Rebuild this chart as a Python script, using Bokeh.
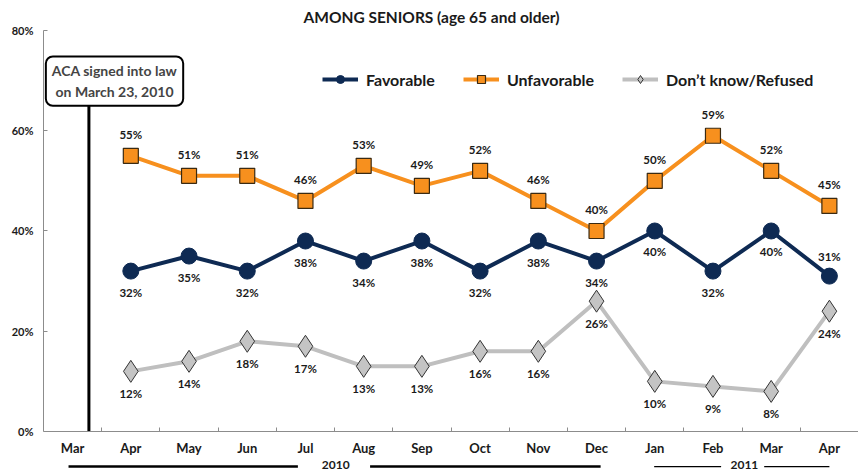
from bokeh.plotting import figure
from bokeh.models import Label, Legend, LegendItem, FixedTicker, Range1d
from bokeh.core.properties import value
from bokeh.embed import file_html
from bokeh.resources import INLINE

months = ["Mar", "Apr", "May", "Jun", "Jul", "Aug", "Sep", "Oct", "Nov", "Dec",
          "Jan", "Feb", "Mar", "Apr"]
xs = list(range(1, 14))
favorable = [32, 35, 32, 38, 34, 38, 32, 38, 34, 40, 32, 40, 31]
unfavorable = [55, 51, 51, 46, 53, 49, 52, 46, 40, 50, 59, 52, 45]
dontknow = [12, 14, 18, 17, 13, 13, 16, 16, 26, 10, 9, 8, 24]
y_ticks = [0, 20, 40, 60, 80]
years = ["2010", "2011"]
year_label_x = [4.52, 11.54]
year_lines = [(-0.07, 3.87, 2.5), (5.11, 9.07, 2.5), (9.99, 11.14, 1.2), (11.88, 13.0, 1.2)]

FONT = "Lato"
NAVY = "#0E2A53"
ORANGE = "#F7901E"
GRAY = "#BFBFBF"
AXIS = "#8C8C8C"
YEAR_Y = -7.0

p = figure(width=858, height=472, output_backend="svg", toolbar_location=None,
           x_range=Range1d(-0.5, 13.5), y_range=Range1d(-8.18, 80),
           min_border_left=43, min_border_right=0, min_border_top=30,
           min_border_bottom=0)
p.outline_line_color = None
p.grid.grid_line_color = None

p.title.text = "AMONG SENIORS (age 65 and older)"
p.title.text_font = FONT
p.title.text_font_style = "bold"
p.title.text_font_size = "15.5px"
p.title.text_color = "#1a1a1a"
p.title.align = "left"
p.title.offset = 260

# axes
p.yaxis.ticker = FixedTicker(ticks=y_ticks)
p.yaxis.major_label_overrides = {t: f"{t}%" for t in y_ticks}
p.yaxis.bounds = (0, 80)
p.xaxis.ticker = FixedTicker(ticks=list(range(14)),
                             minor_ticks=[i + 0.5 for i in range(13)])
p.xaxis.major_label_overrides = {i: m for i, m in enumerate(months)}
p.xaxis.fixed_location = 0
for ax in (p.xaxis[0], p.yaxis[0]):
    ax.axis_line_color = AXIS
    ax.major_label_text_font = FONT
    ax.major_label_text_font_style = "bold"
    ax.major_label_text_color = "#1a1a1a"
p.yaxis.major_label_text_font_size = "11px"
p.yaxis.major_tick_in = 4
p.yaxis.major_tick_out = 0
p.yaxis.major_tick_line_color = AXIS
p.yaxis.minor_tick_line_color = None
p.yaxis.major_label_standoff = 10
p.xaxis.major_label_text_font_size = "13px"
p.xaxis.major_tick_line_color = None
p.xaxis.minor_tick_in = 4
p.xaxis.minor_tick_out = 0
p.xaxis.minor_tick_line_color = AXIS
p.xaxis.major_label_standoff = 3

# ACA event line and box
ACA_X = 0.28
p.segment(x0=[ACA_X], y0=[0], x1=[ACA_X], y1=[65], line_color="black", line_width=3)
p.add_layout(Label(x=0.72, y=69.9, text="ACA signed into law\non March 23, 2010",
                   text_font=FONT, text_font_style="bold", text_font_size="14px",
                   text_align="center", text_baseline="middle",
                   border_line_color="black", border_line_width=2,
                   background_fill_color="white", padding=6, border_radius=7))

# series
l1 = p.line(xs, favorable, line_color=NAVY, line_width=4)
s1 = p.scatter(xs, favorable, marker="circle", size=16, fill_color=NAVY, line_color=NAVY)
l2 = p.line(xs, unfavorable, line_color=ORANGE, line_width=4)
s2 = p.scatter(xs, unfavorable, marker="square", size=15, fill_color=ORANGE,
               line_color="#3A2A12", line_width=1.2)
l3 = p.line(xs, dontknow, line_color=GRAY, line_width=4)
s3 = p.scatter(xs, dontknow, marker="diamond", size=22, fill_color="#C4C4C4",
               line_color="#333333", line_width=1)

def labels(vals, offsets):
    p.text(xs, vals, text=[f"{v}%" for v in vals], y_offset=offsets,
           text_font=value(FONT), text_font_style="bold", text_font_size="11.5px",
           text_color="#1a1a1a", text_align="center", text_baseline="middle")

labels(favorable, [21] * 12 + [-20])
labels(unfavorable, [-21] * 13)
labels(dontknow, [22] * 13)

legend = Legend(items=[LegendItem(label="Favorable", renderers=[l1, s1]),
                       LegendItem(label="Unfavorable", renderers=[l2, s2]),
                       LegendItem(label="Don\u2019t know/Refused", renderers=[l3, s3])],
                orientation="horizontal", location=(279, 383),
                label_text_font=FONT, label_text_font_style="bold",
                label_text_font_size="16px", label_text_color="#1a1a1a",
                glyph_width=36, glyph_height=20, label_standoff=8, spacing=28,
                padding=0, margin=0, border_line_color=None,
                background_fill_alpha=0)
p.add_layout(legend)

# year brackets under the axis
p.segment(x0=[a for a, b, w in year_lines], y0=[YEAR_Y] * 4,
          x1=[b for a, b, w in year_lines], y1=[YEAR_Y] * 4,
          line_color="black", line_width=[w for a, b, w in year_lines])
p.text(year_label_x, [YEAR_Y + 0.4] * 2, text=years, text_font=value(FONT),
       text_font_style="bold", text_font_size="12px", text_align="center",
       text_baseline="middle", text_color="#1a1a1a")

open("out.html", "w").write(file_html(p, INLINE))
